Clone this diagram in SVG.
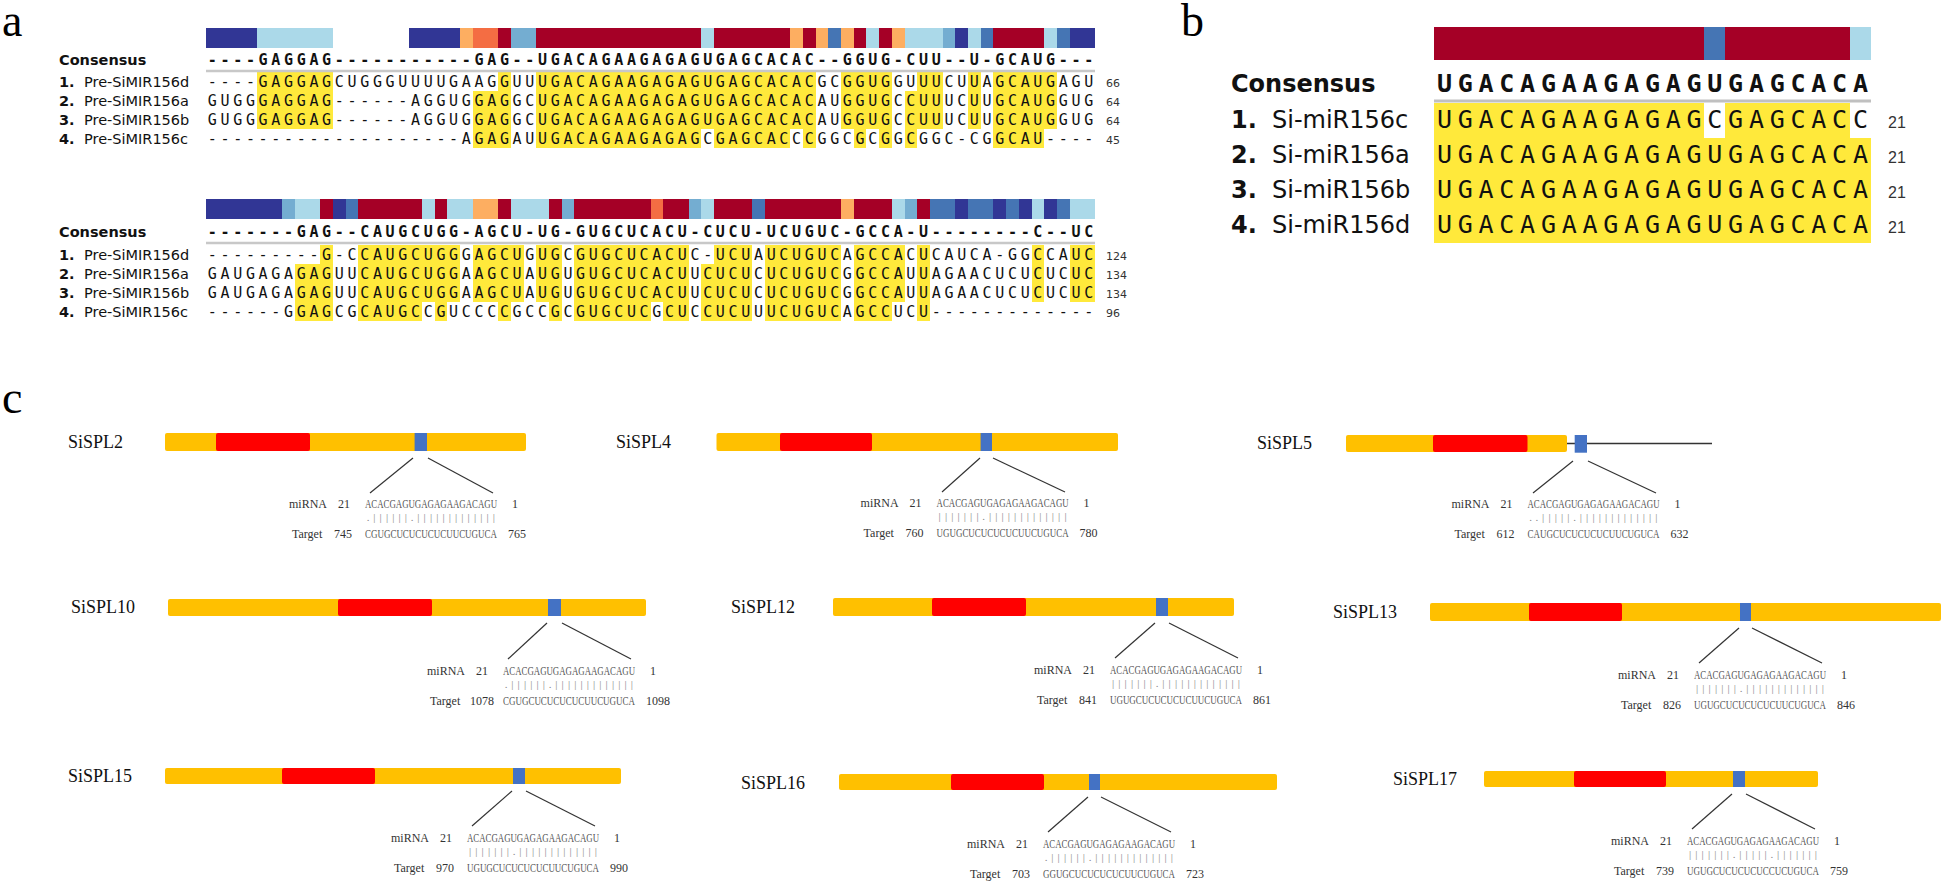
<svg xmlns="http://www.w3.org/2000/svg" width="1943" height="882" viewBox="0 0 1943 882">
<style>
.pl{font-family:'Liberation Serif',serif;font-size:46px;fill:#000}
.sa{font-family:'DejaVu Sans Mono',monospace;font-size:15px;letter-spacing:3.67px;fill:#111}
.sb{font-family:'DejaVu Sans Mono',monospace;font-size:25px;letter-spacing:5.75px;fill:#111}
.bd{font-weight:bold}
.lab{font-family:'DejaVu Sans',sans-serif;font-size:14.5px;fill:#111}
.labb{font-family:'DejaVu Sans',sans-serif;font-size:24px;fill:#111}
.num{font-family:'DejaVu Sans',sans-serif;font-size:11px;fill:#333}
.numb{font-family:'Liberation Sans',sans-serif;font-size:16px;fill:#333}
.hl{fill:#ffe93b}
.nv{fill:#313695}.lb{fill:#abd9e9}.mb{fill:#74add1}.bl{fill:#4575b4}.cr{fill:#a50026}.lo{fill:#fdae61}.or{fill:#f46d43}
.sep{stroke:#c8c8c8;stroke-width:2.5}
.gl{font-family:'Liberation Serif',serif;font-size:18px;fill:#111}
.gb{fill:#ffc000}.gr{fill:#ff0000}.gbl{fill:#4472c4}
.al{font-family:'Liberation Serif',serif;font-size:12px;fill:#333}
.sq{font-family:'Liberation Serif',serif;font-size:12px;fill:#555}
.mt{font-family:'Liberation Serif',serif;font-size:11px;fill:#888;text-anchor:middle}
.cn{stroke:#333;stroke-width:1.2;fill:none}
</style>

<g id="panel-a">
<text class="pl" x="2" y="36">a</text>
<g id="a-bar1" transform="translate(206 0) scale(12.7 1)" shape-rendering="crispEdges">
<rect class="nv" x="0" y="28" width="4" height="20"/><rect class="lb" x="4" y="28" width="6" height="20"/>
<rect class="nv" x="16" y="28" width="4" height="20"/><rect class="lo" x="20" y="28" width="1" height="20"/>
<rect class="or" x="21" y="28" width="2" height="20"/><rect class="cr" x="23" y="28" width="1" height="20"/>
<rect class="mb" x="24" y="28" width="2" height="20"/><rect class="cr" x="26" y="28" width="13" height="20"/>
<rect class="lb" x="39" y="28" width="1" height="20"/><rect class="cr" x="40" y="28" width="6" height="20"/>
<rect class="lo" x="46" y="28" width="1" height="20"/><rect class="cr" x="47" y="28" width="1" height="20"/>
<rect class="lo" x="48" y="28" width="1" height="20"/><rect class="bl" x="49" y="28" width="1" height="20"/>
<rect class="lo" x="50" y="28" width="1" height="20"/><rect class="cr" x="51" y="28" width="1" height="20"/>
<rect class="lb" x="52" y="28" width="1" height="20"/><rect class="cr" x="53" y="28" width="1" height="20"/>
<rect class="lo" x="54" y="28" width="1" height="20"/><rect class="lb" x="55" y="28" width="3" height="20"/>
<rect class="mb" x="58" y="28" width="1" height="20"/><rect class="nv" x="59" y="28" width="1" height="20"/>
<rect class="lb" x="60" y="28" width="1" height="20"/><rect class="bl" x="61" y="28" width="1" height="20"/>
<rect class="cr" x="62" y="28" width="4" height="20"/><rect class="lb" x="66" y="28" width="1" height="20"/>
<rect class="bl" x="67" y="28" width="1" height="20"/><rect class="nv" x="68" y="28" width="2" height="20"/>
</g>
<g id="a-hl1" transform="translate(206 0) scale(12.7 1)" shape-rendering="crispEdges">
<rect class="hl" x="4" y="72" width="6" height="19"/><rect class="hl" x="23" y="72" width="1" height="19"/>
<rect class="hl" x="26" y="72" width="22" height="19"/><rect class="hl" x="50" y="72" width="4" height="19"/>
<rect class="hl" x="56" y="72" width="2" height="19"/><rect class="hl" x="60" y="72" width="1" height="19"/>
<rect class="hl" x="62" y="72" width="5" height="19"/>
<rect class="hl" x="4" y="91" width="6" height="38"/><rect class="hl" x="21" y="91" width="3" height="38"/>
<rect class="hl" x="26" y="91" width="22" height="38"/><rect class="hl" x="50" y="91" width="4" height="38"/>
<rect class="hl" x="55" y="91" width="3" height="38"/><rect class="hl" x="60" y="91" width="1" height="38"/>
<rect class="hl" x="62" y="91" width="5" height="38"/>
<rect class="hl" x="21" y="129" width="3" height="19"/><rect class="hl" x="26" y="129" width="13" height="19"/>
<rect class="hl" x="40" y="129" width="6" height="19"/><rect class="hl" x="47" y="129" width="1" height="19"/>
<rect class="hl" x="51" y="129" width="1" height="19"/><rect class="hl" x="53" y="129" width="1" height="19"/>
<rect class="hl" x="55" y="129" width="1" height="19"/><rect class="hl" x="62" y="129" width="4" height="19"/>
</g>
<line class="sep" x1="206" y1="71" x2="1095" y2="71"/>
<text class="lab bd" x="59" y="65">Consensus</text>
<text class="sa bd" x="207.8" y="65">----GAGGAG-----------GAG--UGACAGAAGAGAGUGAGCACAC--GGUG-CUU--U-GCAUG---</text>
<text class="lab" x="59" y="87"><tspan class="bd">1.</tspan><tspan x="84">Pre-SiMIR156d</tspan></text>
<text class="sa" x="207.8" y="87">----GAGGAGCUGGGUUUUGAAGGUUUGACAGAAGAGAGUGAGCACACGCGGUGGUUUCUUAGCAUGAGU</text>
<text class="num" x="1106" y="87">66</text>
<text class="lab" x="59" y="106"><tspan class="bd">2.</tspan><tspan x="84">Pre-SiMIR156a</tspan></text>
<text class="sa" x="207.8" y="106">GUGGGAGGAG------AGGUGGAGGCUGACAGAAGAGAGUGAGCACACAUGGUGCCUUUCUUGCAUGGUG</text>
<text class="num" x="1106" y="106">64</text>
<text class="lab" x="59" y="125"><tspan class="bd">3.</tspan><tspan x="84">Pre-SiMIR156b</tspan></text>
<text class="sa" x="207.8" y="125">GUGGGAGGAG------AGGUGGAGGCUGACAGAAGAGAGUGAGCACACAUGGUGCCUUUCUUGCAUGGUG</text>
<text class="num" x="1106" y="125">64</text>
<text class="lab" x="59" y="144"><tspan class="bd">4.</tspan><tspan x="84">Pre-SiMIR156c</tspan></text>
<text class="sa" x="207.8" y="144">--------------------AGAGAUUGACAGAAGAGAGCGAGCACCCGGCGCGGCGGC-CGGCAU----</text>
<text class="num" x="1106" y="144">45</text>

<g id="a-bar2" transform="translate(206 0) scale(12.7 1)" shape-rendering="crispEdges">
<rect class="nv" x="0" y="199" width="6" height="20"/><rect class="mb" x="6" y="199" width="1" height="20"/>
<rect class="lb" x="7" y="199" width="2" height="20"/><rect class="cr" x="9" y="199" width="1" height="20"/>
<rect class="nv" x="10" y="199" width="1" height="20"/><rect class="bl" x="11" y="199" width="1" height="20"/>
<rect class="cr" x="12" y="199" width="5" height="20"/><rect class="lb" x="17" y="199" width="1" height="20"/>
<rect class="cr" x="18" y="199" width="1" height="20"/><rect class="lb" x="19" y="199" width="2" height="20"/>
<rect class="lo" x="21" y="199" width="2" height="20"/><rect class="cr" x="23" y="199" width="1" height="20"/>
<rect class="lb" x="24" y="199" width="3" height="20"/><rect class="cr" x="27" y="199" width="1" height="20"/>
<rect class="mb" x="28" y="199" width="1" height="20"/><rect class="cr" x="29" y="199" width="6" height="20"/>
<rect class="or" x="35" y="199" width="1" height="20"/><rect class="cr" x="36" y="199" width="2" height="20"/>
<rect class="mb" x="38" y="199" width="1" height="20"/><rect class="lb" x="39" y="199" width="1" height="20"/>
<rect class="cr" x="40" y="199" width="3" height="20"/><rect class="bl" x="43" y="199" width="1" height="20"/>
<rect class="cr" x="44" y="199" width="6" height="20"/><rect class="lo" x="50" y="199" width="1" height="20"/>
<rect class="cr" x="51" y="199" width="3" height="20"/><rect class="lb" x="54" y="199" width="1" height="20"/>
<rect class="mb" x="55" y="199" width="1" height="20"/><rect class="cr" x="56" y="199" width="1" height="20"/>
<rect class="bl" x="57" y="199" width="2" height="20"/><rect class="nv" x="59" y="199" width="1" height="20"/>
<rect class="bl" x="60" y="199" width="2" height="20"/><rect class="nv" x="62" y="199" width="1" height="20"/>
<rect class="bl" x="63" y="199" width="1" height="20"/><rect class="nv" x="64" y="199" width="1" height="20"/>
<rect class="lb" x="65" y="199" width="1" height="20"/><rect class="nv" x="66" y="199" width="1" height="20"/>
<rect class="bl" x="67" y="199" width="1" height="20"/><rect class="lb" x="68" y="199" width="2" height="20"/>
</g>
<g id="a-hl2" transform="translate(206 0) scale(12.7 1)" shape-rendering="crispEdges">
<rect class="hl" x="9" y="245" width="1" height="19"/><rect class="hl" x="12" y="245" width="8" height="19"/>
<rect class="hl" x="21" y="245" width="4" height="19"/><rect class="hl" x="26" y="245" width="2" height="19"/>
<rect class="hl" x="29" y="245" width="9" height="19"/><rect class="hl" x="40" y="245" width="3" height="19"/>
<rect class="hl" x="44" y="245" width="6" height="19"/><rect class="hl" x="51" y="245" width="4" height="19"/>
<rect class="hl" x="56" y="245" width="1" height="19"/><rect class="hl" x="65" y="245" width="1" height="19"/>
<rect class="hl" x="68" y="245" width="2" height="19"/>
<rect class="hl" x="7" y="264" width="3" height="38"/><rect class="hl" x="12" y="264" width="8" height="38"/>
<rect class="hl" x="21" y="264" width="4" height="38"/><rect class="hl" x="26" y="264" width="2" height="38"/>
<rect class="hl" x="29" y="264" width="9" height="38"/><rect class="hl" x="39" y="264" width="4" height="38"/>
<rect class="hl" x="44" y="264" width="6" height="38"/><rect class="hl" x="51" y="264" width="4" height="38"/>
<rect class="hl" x="56" y="264" width="1" height="38"/><rect class="hl" x="65" y="264" width="1" height="38"/>
<rect class="hl" x="68" y="264" width="2" height="38"/>
<rect class="hl" x="7" y="302" width="3" height="19"/><rect class="hl" x="12" y="302" width="5" height="19"/>
<rect class="hl" x="18" y="302" width="1" height="19"/><rect class="hl" x="23" y="302" width="1" height="19"/>
<rect class="hl" x="27" y="302" width="1" height="19"/><rect class="hl" x="29" y="302" width="6" height="19"/>
<rect class="hl" x="36" y="302" width="2" height="19"/><rect class="hl" x="39" y="302" width="4" height="19"/>
<rect class="hl" x="44" y="302" width="6" height="19"/><rect class="hl" x="51" y="302" width="3" height="19"/>
<rect class="hl" x="56" y="302" width="1" height="19"/>
</g>
<line class="sep" x1="206" y1="243" x2="1095" y2="243"/>
<text class="lab bd" x="59" y="237">Consensus</text>
<text class="sa bd" x="207.8" y="237">-------GAG--CAUGCUGG-AGCU-UG-GUGCUCACU-CUCU-UCUGUC-GCCA-U--------C--UC</text>
<text class="lab" x="59" y="260"><tspan class="bd">1.</tspan><tspan x="84">Pre-SiMIR156d</tspan></text>
<text class="sa" x="207.8" y="260">---------G-CCAUGCUGGGAGCUGUGCGUGCUCACUC-UCUAUCUGUCAGCCACUCAUCA-GGCCAUC</text>
<text class="num" x="1106" y="260">124</text>
<text class="lab" x="59" y="279"><tspan class="bd">2.</tspan><tspan x="84">Pre-SiMIR156a</tspan></text>
<text class="sa" x="207.8" y="279">GAUGAGAGAGUUCAUGCUGGAAGCUAUGUGUGCUCACUUCUCUCUCUGUCGGCCAUUAGAACUCUCUCUC</text>
<text class="num" x="1106" y="279">134</text>
<text class="lab" x="59" y="298"><tspan class="bd">3.</tspan><tspan x="84">Pre-SiMIR156b</tspan></text>
<text class="sa" x="207.8" y="298">GAUGAGAGAGUUCAUGCUGGAAGCUAUGUGUGCUCACUUCUCUCUCUGUCGGCCAUUAGAACUCUCUCUC</text>
<text class="num" x="1106" y="298">134</text>
<text class="lab" x="59" y="317"><tspan class="bd">4.</tspan><tspan x="84">Pre-SiMIR156c</tspan></text>
<text class="sa" x="207.8" y="317">------GGAGCGCAUGCCGUCCCCGCCGCGUGCUCGCUCCUCUUUCUGUCAGCCUCU-------------</text>
<text class="num" x="1106" y="317">96</text>
</g>

<g id="panel-b">
<text class="pl" x="1181" y="36">b</text>
<g transform="translate(1434 0) scale(20.8 1)" shape-rendering="crispEdges">
<rect class="cr" x="0" y="27" width="13" height="33"/><rect class="bl" x="13" y="27" width="1" height="33"/>
<rect class="cr" x="14" y="27" width="6" height="33"/><rect class="lb" x="20" y="27" width="1" height="33"/>
<rect class="hl" x="0" y="103" width="13" height="35"/><rect class="hl" x="14" y="103" width="6" height="35"/>
<rect class="hl" x="0" y="138" width="21" height="105"/>
</g>
<line x1="1434" y1="101" x2="1871" y2="101" stroke="#c0c0c0" stroke-width="3"/>
<text class="labb bd" x="1231" y="92">Consensus</text>
<text class="sb bd" x="1436.9" y="92">UGACAGAAGAGAGUGAGCACA</text>
<text class="labb" x="1231" y="128"><tspan class="bd">1.</tspan><tspan x="1272">Si-miR156c</tspan></text>
<text class="sb" x="1436.9" y="128">UGACAGAAGAGAGCGAGCACC</text>
<text class="numb" x="1888" y="128">21</text>
<text class="labb" x="1231" y="163"><tspan class="bd">2.</tspan><tspan x="1272">Si-miR156a</tspan></text>
<text class="sb" x="1436.9" y="163">UGACAGAAGAGAGUGAGCACA</text>
<text class="numb" x="1888" y="163">21</text>
<text class="labb" x="1231" y="198"><tspan class="bd">3.</tspan><tspan x="1272">Si-miR156b</tspan></text>
<text class="sb" x="1436.9" y="198">UGACAGAAGAGAGUGAGCACA</text>
<text class="numb" x="1888" y="198">21</text>
<text class="labb" x="1231" y="233"><tspan class="bd">4.</tspan><tspan x="1272">Si-miR156d</tspan></text>
<text class="sb" x="1436.9" y="233">UGACAGAAGAGAGUGAGCACA</text>
<text class="numb" x="1888" y="233">21</text>
</g>

<g id="panel-c">
<text class="pl" x="2" y="413">c</text>

<g id="SiSPL2">
<text class="gl" x="68" y="448">SiSPL2</text>
<rect class="gb" x="165" y="433" width="361" height="18" rx="2"/>
<rect class="gr" x="216" y="433" width="94" height="18" rx="2"/>
<rect class="gbl" x="414.6" y="433" width="12.4" height="18"/>
<g transform="translate(365 508)">
<text class="al" x="-76">miRNA</text><text class="al" x="-27">21</text>
<text class="sq" textLength="132" lengthAdjust="spacingAndGlyphs">ACACGAGUGAGAGAAGACAGU</text><text class="al" x="147">1</text>
<text class="mt" y="13" x="3.1 9.4 15.7 22 28.3 34.6 40.9 47.1 53.4 59.7 66 72.3 78.6 84.9 91.2 97.4 103.7 110 116.3 122.6 128.9">.||||||.|||||||||||||</text>
<text class="al" x="-73" y="30">Target</text><text class="al" x="-31" y="30">745</text>
<text class="sq" y="30" textLength="132" lengthAdjust="spacingAndGlyphs">CGUGCUCUCUCUCUUCUGUCA</text><text class="al" x="143" y="30">765</text>
</g>
</g>

<g id="SiSPL4">
<text class="gl" x="616" y="448">SiSPL4</text>
<rect class="gb" x="716.5" y="433" width="401.5" height="18" rx="2"/>
<rect class="gr" x="780" y="433" width="92" height="18" rx="2"/>
<rect class="gbl" x="980.6" y="433" width="11.4" height="18"/>
<g transform="translate(936.6 507)">
<text class="al" x="-76">miRNA</text><text class="al" x="-27">21</text>
<text class="sq" textLength="132" lengthAdjust="spacingAndGlyphs">ACACGAGUGAGAGAAGACAGU</text><text class="al" x="147">1</text>
<text class="mt" y="13" x="3.1 9.4 15.7 22 28.3 34.6 40.9 47.1 53.4 59.7 66 72.3 78.6 84.9 91.2 97.4 103.7 110 116.3 122.6 128.9">|||||||.|||||||||||||</text>
<text class="al" x="-73" y="30">Target</text><text class="al" x="-31" y="30">760</text>
<text class="sq" y="30" textLength="132" lengthAdjust="spacingAndGlyphs">UGUGCUCUCUCUCUUCUGUCA</text><text class="al" x="143" y="30">780</text>
</g>
</g>

<g id="SiSPL5">
<text class="gl" x="1257" y="449">SiSPL5</text>
<line x1="1567" y1="443.5" x2="1712" y2="443.5" stroke="#333" stroke-width="1.6"/>
<rect class="gb" x="1346" y="435" width="221" height="17" rx="2"/>
<rect class="gr" x="1433" y="435" width="94.5" height="17" rx="2"/>
<rect class="gbl" x="1574.7" y="435" width="12.3" height="17.7"/>
<g transform="translate(1527.5 508)">
<text class="al" x="-76">miRNA</text><text class="al" x="-27">21</text>
<text class="sq" textLength="132" lengthAdjust="spacingAndGlyphs">ACACGAGUGAGAGAAGACAGU</text><text class="al" x="147">1</text>
<text class="mt" y="13" x="3.1 9.4 15.7 22 28.3 34.6 40.9 47.1 53.4 59.7 66 72.3 78.6 84.9 91.2 97.4 103.7 110 116.3 122.6 128.9">..|||||.|||||||||||||</text>
<text class="al" x="-73" y="30">Target</text><text class="al" x="-31" y="30">612</text>
<text class="sq" y="30" textLength="132" lengthAdjust="spacingAndGlyphs">CAUGCUCUCUCUCUUCUGUCA</text><text class="al" x="143" y="30">632</text>
</g>
</g>

<g id="SiSPL10">
<text class="gl" x="71" y="613">SiSPL10</text>
<rect class="gb" x="168" y="599" width="478" height="17" rx="2"/>
<rect class="gr" x="338" y="599" width="94" height="17" rx="2"/>
<rect class="gbl" x="548" y="599" width="13" height="17"/>
<g transform="translate(503 675)">
<text class="al" x="-76">miRNA</text><text class="al" x="-27">21</text>
<text class="sq" textLength="132" lengthAdjust="spacingAndGlyphs">ACACGAGUGAGAGAAGACAGU</text><text class="al" x="147">1</text>
<text class="mt" y="13" x="3.1 9.4 15.7 22 28.3 34.6 40.9 47.1 53.4 59.7 66 72.3 78.6 84.9 91.2 97.4 103.7 110 116.3 122.6 128.9">.||||||.|||||||||||||</text>
<text class="al" x="-73" y="30">Target</text><text class="al" x="-33" y="30">1078</text>
<text class="sq" y="30" textLength="132" lengthAdjust="spacingAndGlyphs">CGUGCUCUCUCUCUUCUGUCA</text><text class="al" x="143" y="30">1098</text>
</g>
</g>

<g id="SiSPL12">
<text class="gl" x="731" y="613">SiSPL12</text>
<rect class="gb" x="833" y="598" width="401" height="18" rx="2"/>
<rect class="gr" x="932" y="598" width="94" height="18" rx="2"/>
<rect class="gbl" x="1156" y="598" width="12" height="18"/>
<g transform="translate(1110 674)">
<text class="al" x="-76">miRNA</text><text class="al" x="-27">21</text>
<text class="sq" textLength="132" lengthAdjust="spacingAndGlyphs">ACACGAGUGAGAGAAGACAGU</text><text class="al" x="147">1</text>
<text class="mt" y="13" x="3.1 9.4 15.7 22 28.3 34.6 40.9 47.1 53.4 59.7 66 72.3 78.6 84.9 91.2 97.4 103.7 110 116.3 122.6 128.9">|||||||.|||||||||||||</text>
<text class="al" x="-73" y="30">Target</text><text class="al" x="-31" y="30">841</text>
<text class="sq" y="30" textLength="132" lengthAdjust="spacingAndGlyphs">UGUGCUCUCUCUCUUCUGUCA</text><text class="al" x="143" y="30">861</text>
</g>
</g>

<g id="SiSPL13">
<text class="gl" x="1333" y="618">SiSPL13</text>
<rect class="gb" x="1430" y="603" width="511" height="18" rx="2"/>
<rect class="gr" x="1529" y="603" width="93" height="18" rx="2"/>
<rect class="gbl" x="1740" y="603" width="11" height="18"/>
<g transform="translate(1694 679)">
<text class="al" x="-76">miRNA</text><text class="al" x="-27">21</text>
<text class="sq" textLength="132" lengthAdjust="spacingAndGlyphs">ACACGAGUGAGAGAAGACAGU</text><text class="al" x="147">1</text>
<text class="mt" y="13" x="3.1 9.4 15.7 22 28.3 34.6 40.9 47.1 53.4 59.7 66 72.3 78.6 84.9 91.2 97.4 103.7 110 116.3 122.6 128.9">|||||||.|||||||||||||</text>
<text class="al" x="-73" y="30">Target</text><text class="al" x="-31" y="30">826</text>
<text class="sq" y="30" textLength="132" lengthAdjust="spacingAndGlyphs">UGUGCUCUCUCUCUUCUGUCA</text><text class="al" x="143" y="30">846</text>
</g>
</g>

<g id="SiSPL15">
<text class="gl" x="68" y="782">SiSPL15</text>
<rect class="gb" x="165" y="768" width="456" height="16" rx="2"/>
<rect class="gr" x="282" y="768" width="93" height="16" rx="2"/>
<rect class="gbl" x="513" y="768" width="12" height="16"/>
<g transform="translate(467 842)">
<text class="al" x="-76">miRNA</text><text class="al" x="-27">21</text>
<text class="sq" textLength="132" lengthAdjust="spacingAndGlyphs">ACACGAGUGAGAGAAGACAGU</text><text class="al" x="147">1</text>
<text class="mt" y="13" x="3.1 9.4 15.7 22 28.3 34.6 40.9 47.1 53.4 59.7 66 72.3 78.6 84.9 91.2 97.4 103.7 110 116.3 122.6 128.9">|||||||.|||||||||||||</text>
<text class="al" x="-73" y="30">Target</text><text class="al" x="-31" y="30">970</text>
<text class="sq" y="30" textLength="132" lengthAdjust="spacingAndGlyphs">UGUGCUCUCUCUCUUCUGUCA</text><text class="al" x="143" y="30">990</text>
</g>
</g>

<g id="SiSPL16">
<text class="gl" x="741" y="789">SiSPL16</text>
<rect class="gb" x="839" y="774" width="438" height="16" rx="2"/>
<rect class="gr" x="951" y="774" width="93" height="16" rx="2"/>
<rect class="gbl" x="1089" y="774" width="11" height="16"/>
<g transform="translate(1043 848)">
<text class="al" x="-76">miRNA</text><text class="al" x="-27">21</text>
<text class="sq" textLength="132" lengthAdjust="spacingAndGlyphs">ACACGAGUGAGAGAAGACAGU</text><text class="al" x="147">1</text>
<text class="mt" y="13" x="3.1 9.4 15.7 22 28.3 34.6 40.9 47.1 53.4 59.7 66 72.3 78.6 84.9 91.2 97.4 103.7 110 116.3 122.6 128.9">.||||||.|||||||||||||</text>
<text class="al" x="-73" y="30">Target</text><text class="al" x="-31" y="30">703</text>
<text class="sq" y="30" textLength="132" lengthAdjust="spacingAndGlyphs">GGUGCUCUCUCUCUUCUGUCA</text><text class="al" x="143" y="30">723</text>
</g>
</g>

<g id="SiSPL17">
<text class="gl" x="1393" y="785">SiSPL17</text>
<rect class="gb" x="1484" y="771" width="334" height="16" rx="2"/>
<rect class="gr" x="1574" y="771" width="92" height="16" rx="2"/>
<rect class="gbl" x="1733" y="771" width="12" height="16"/>
<g transform="translate(1687 845)">
<text class="al" x="-76">miRNA</text><text class="al" x="-27">21</text>
<text class="sq" textLength="132" lengthAdjust="spacingAndGlyphs">ACACGAGUGAGAGAAGACAGU</text><text class="al" x="147">1</text>
<text class="mt" y="13" x="3.1 9.4 15.7 22 28.3 34.6 40.9 47.1 53.4 59.7 66 72.3 78.6 84.9 91.2 97.4 103.7 110 116.3 122.6 128.9">|||||||.|||||.|||||||</text>
<text class="al" x="-73" y="30">Target</text><text class="al" x="-31" y="30">739</text>
<text class="sq" y="30" textLength="132" lengthAdjust="spacingAndGlyphs">UGUGCUCUCUCUCCUCUGUCA</text><text class="al" x="143" y="30">759</text>
</g>
</g>

<g id="connectors">
<line class="cn" x1="413" y1="458" x2="370" y2="493"/><line class="cn" x1="428" y1="458" x2="493" y2="493"/>
<line class="cn" x1="980" y1="458" x2="942" y2="492"/><line class="cn" x1="993" y1="458" x2="1065" y2="492"/>
<line class="cn" x1="1573" y1="461" x2="1533" y2="493"/><line class="cn" x1="1588" y1="461" x2="1656" y2="493"/>
<line class="cn" x1="547" y1="623" x2="508" y2="659"/><line class="cn" x1="562" y1="623" x2="631" y2="659"/>
<line class="cn" x1="1155" y1="623" x2="1115" y2="658"/><line class="cn" x1="1169" y1="623" x2="1238" y2="658"/>
<line class="cn" x1="1739" y1="628" x2="1699" y2="663"/><line class="cn" x1="1752" y1="628" x2="1822" y2="663"/>
<line class="cn" x1="512" y1="791" x2="472" y2="826"/><line class="cn" x1="526" y1="791" x2="595" y2="826"/>
<line class="cn" x1="1088" y1="797" x2="1048" y2="832"/><line class="cn" x1="1101" y1="797" x2="1171" y2="832"/>
<line class="cn" x1="1732" y1="794" x2="1692" y2="829"/><line class="cn" x1="1746" y1="794" x2="1815" y2="829"/>
</g>
</g>
</svg>
